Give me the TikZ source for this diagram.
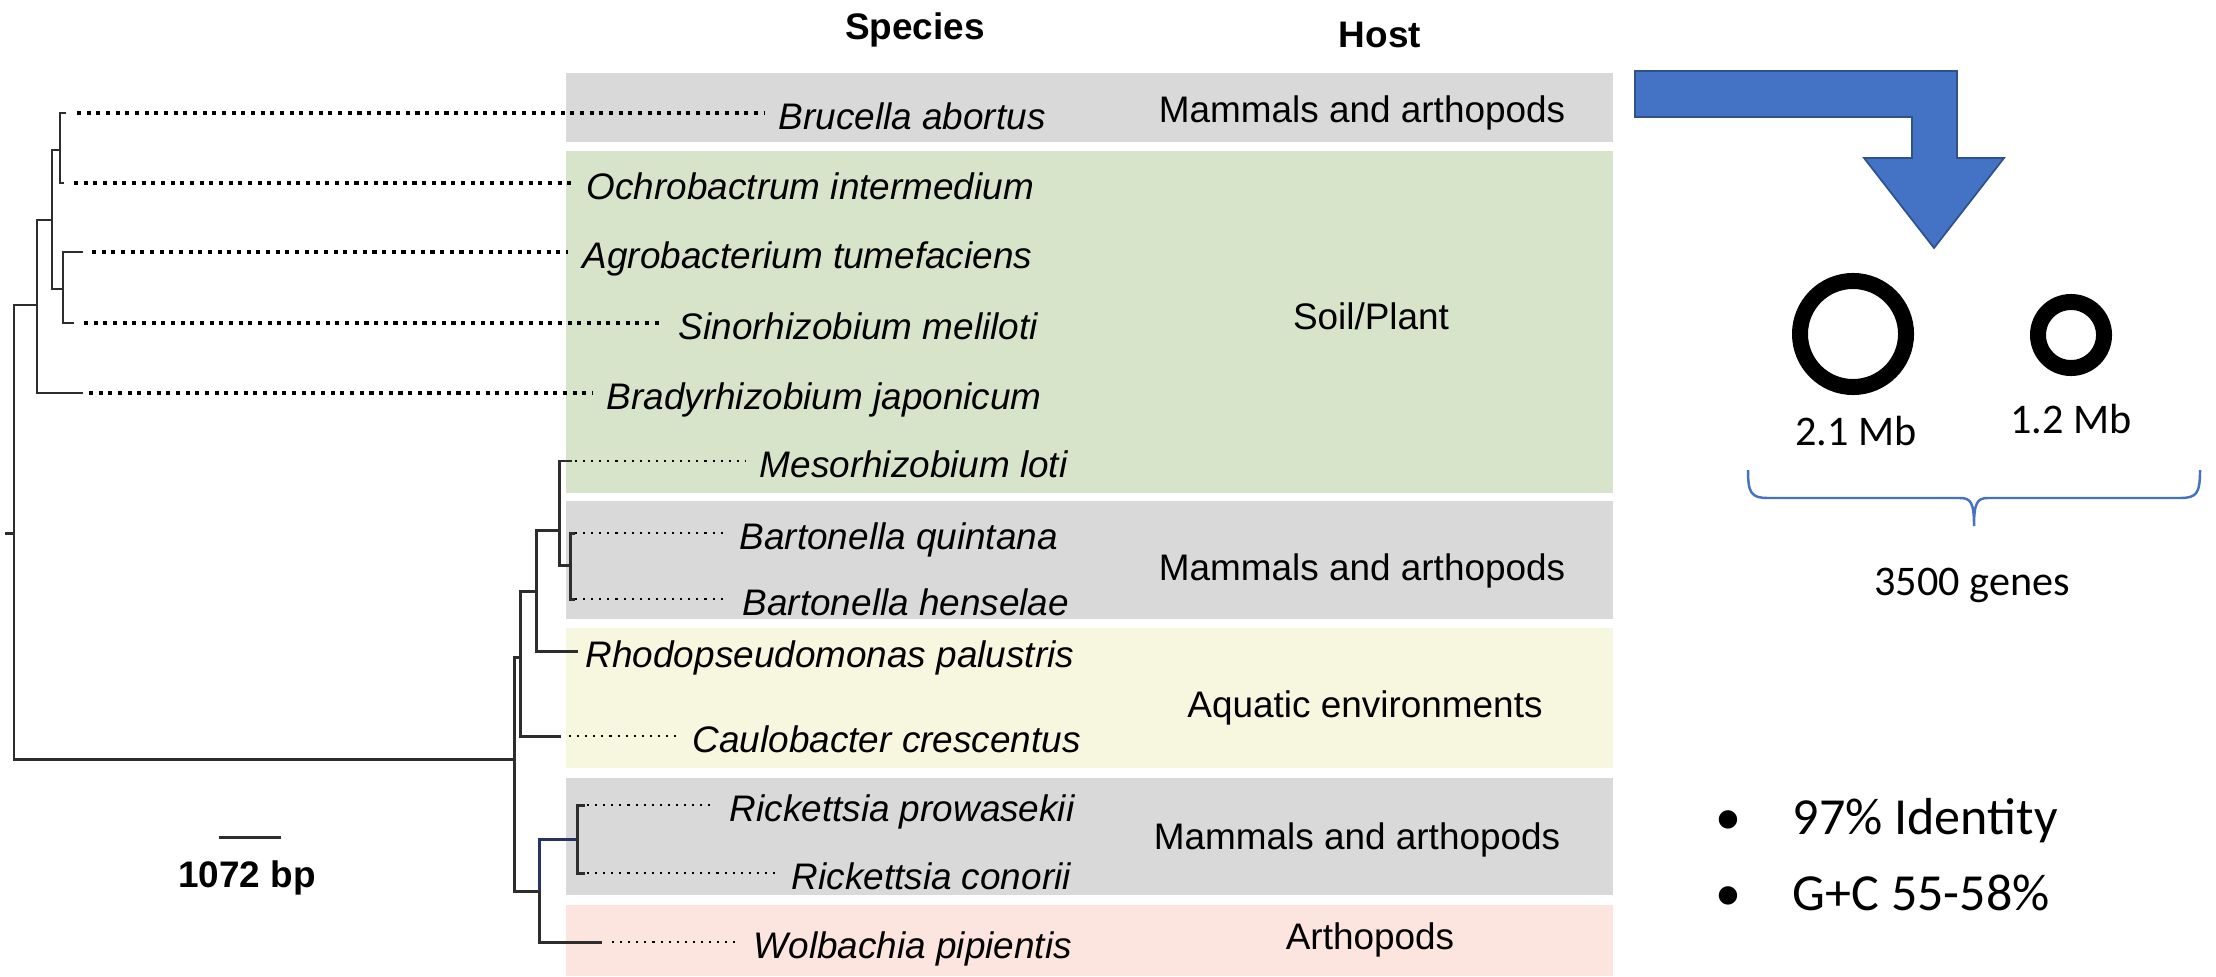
\documentclass[tikz,border=0pt]{standalone}
\usepackage{fontspec}
\setmainfont{Liberation Sans}
\newfontfamily\calibri{Carlito}
\usepackage{xcolor}
\usetikzlibrary{positioning,calc}
\definecolor{boxgray}{RGB}{217,217,217}
\definecolor{boxgreen}{RGB}{216,228,202}
\definecolor{boxyellow}{RGB}{247,246,222}
\definecolor{boxpink}{RGB}{251,229,222}
\definecolor{arrowblue}{RGB}{68,114,196}
\definecolor{arrowedge}{RGB}{47,82,143}
\definecolor{treeline}{RGB}{45,45,45}
\definecolor{treenavy}{RGB}{40,50,100}

\begin{document}
\begin{tikzpicture}[x=0.01cm,y=-0.01cm,font=\fontsize{10.5}{12}\selectfont,
  sp/.style={anchor=west,inner xsep=0.14cm,inner ysep=0pt,text height=0.32cm,text depth=0cm,font=\fontsize{10.5}{12}\selectfont\itshape},
  host/.style={inner sep=0pt,text height=0.26cm,text depth=0cm},
  hdr/.style={inner sep=0pt,text height=0.26cm,text depth=0cm,font=\fontsize{10.5}{12}\selectfont\bfseries},
  br/.style={treeline,line width=0.85pt},
  lead/.style={line width=1.15pt,dash pattern=on 1.15pt off 1.6pt},
  leadthin/.style={line width=0.65pt,dash pattern=on 0.6pt off 1.7pt},
  cal/.style={inner sep=0pt,text height=0.27cm,text depth=0cm,font=\calibri\fontsize{12}{14}\selectfont},
  calbig/.style={inner sep=0pt,text height=0.33cm,text depth=0cm,font=\calibri\fontsize{14.8}{17}\selectfont},
  ring/.style={circle,draw,line width=0.16cm,inner sep=0pt}]
\useasboundingbox (0,0) rectangle (2216,976);

% host bands
\fill[boxgray] (566,73) rectangle (1613,142);
\fill[boxgreen] (566,151) rectangle (1613,493);
\fill[boxgray] (566,501) rectangle (1613,619);
\fill[boxyellow] (566,628) rectangle (1613,768);
\fill[boxgray] (566,778) rectangle (1613,895);
\fill[boxpink] (566,905) rectangle (1613,976);

\node[hdr] (species) at (915,26) {Species};
\node[hdr] (host) at (1380,34) {Host};

% leaves, upper clade
\foreach \nm/\xs/\xe/\y/\txt in {bru/77/764/113/Brucella abortus,och/74/572/183/Ochrobactrum intermedium,
  agr/92/568/252/Agrobacterium tumefaciens,sin/84/664/323/Sinorhizobium meliloti,bra/89/592/393/Bradyrhizobium japonicum} {
  \node[sp] (\nm) at (\xe,\y) {\txt};
  \draw[lead] (\xs,\y) -- (\nm.west);
}
% leaves, lower clade
\foreach \nm/\xs/\xe/\y/\txt in {mes/575/745/461/Mesorhizobium loti,baq/575/725/533/Bartonella quintana,
  bah/575/728/599/Bartonella henselae,cau/569/678/736/Caulobacter crescentus,rip/587/715/805/Rickettsia prowasekii,
  ric/587/777/873/Rickettsia conorii,wol/612/739/942/Wolbachia pipientis} {
  \node[sp] (\nm) at (\xe,\y) {\txt};
  \draw[leadthin] (\xs,\y) -- (\nm.west);
}
\node[sp,inner xsep=0.07cm] (rho) at (578,651) {Rhodopseudomonas palustris};

% hosts
\node[host] (h1) at (1362,109) {Mammals and arthopods};
\node[host] (h2) at (1371,316) {Soil/Plant};
\node[host] (h3) at (1362,567) {Mammals and arthopods};
\node[host] (h4) at (1365,704) {Aquatic environments};
\node[host] (h5) at (1357,836) {Mammals and arthopods};
\node[host] (h6) at (1370,936) {Arthopods};

% tree
\draw[br] (66,113) -| (60,183) -- (64,183);
\draw[br] (83,252) -| (63,323) -- (74,323);
\draw[br] (60,150) -| (52,289) -- (63,289);
\draw[br] (52,220) -| (37,393) -- (83,393);
\draw[br] (37,305) -| (14,759) -- (514,759);
\draw[br] (5,533) -- (14,533);
\draw[br] (520,657) -| (514,891) -- (539,891);
\draw[br] (536,591) -| (520,736) -- (561,736);
\draw[br] (559,530) -| (536,651) -- (rho.west);
\draw[br] (572,461) -| (559,565) -- (570,565);
\draw[br] (575,533) -| (570,599) -- (575,599);
\draw[treenavy,line width=0.85pt] (577,839) -| (539,891);
\draw[br] (539,891) |- (602,942);
\draw[br] (585,805) -| (577,873) -- (585,873);

% scale bar
\node[hdr] (scale) at (247,874) {1072 bp};
\draw[br] (219,837) -- (281,837);

% genome panel
\filldraw[fill=arrowblue,draw=arrowedge,line width=0.5pt] (1635,71) -- (1957,71) -- (1957,158) -- (2004,158)
  -- (1934,248) -- (1864,158) -- (1912,158) -- (1912,117) -- (1635,117) -- cycle;
\node[ring,minimum size=1.06cm] (chr1) at (1853,334) {};
\node[ring,minimum size=0.66cm] (chr2) at (2071,335) {};
\node[cal] (mb1) at (1856,432) {2.1 Mb};
\node[cal] (mb2) at (2071,420) {1.2 Mb};
\draw[arrowblue,line width=0.7pt] (1748,470) .. controls (1748,493) and (1751,498) .. (1768,498) -- (1960,498)
  .. controls (1971,498) and (1974,503) .. (1974,526) .. controls (1974,503) and (1977,498) .. (1988,498)
  -- (2180,498) .. controls (2197,498) and (2200,493) .. (2200,470);
\node[cal] (genes) at (1972,582) {3500 genes};
\node[calbig] (b1) at (1728,818) {•};
\node[calbig,anchor=west] (ident) at (1792,818) {97\% Identity};
\node[calbig] (b2) at (1728,894) {•};
\node[calbig,anchor=west] (gc) at (1792,894) {G+C 55-58\%};
\end{tikzpicture}
\end{document}
